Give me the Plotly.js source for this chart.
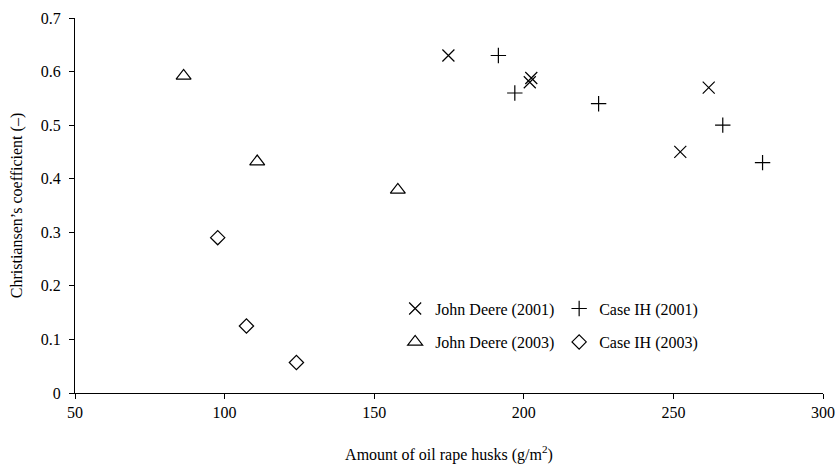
<!DOCTYPE html>
<html>
<head>
<meta charset="utf-8">
<script src="https://cdn.plot.ly/plotly-3.0.1.min.js"></script>
<style>html,body{margin:0;padding:0;background:#fff;}#chart{width:836px;height:470px;}</style>
</head>
<body>
<div id="chart"></div>
<script>
const jd2001X = [174.8, 202.5, 202.0, 261.8, 252.3];
const jd2001Y = [0.63, 0.588, 0.58, 0.57, 0.45];
const ih2001X = [191.5, 197.0, 225.0, 266.5, 279.8];
const ih2001Y = [0.63, 0.56, 0.54, 0.50, 0.43];
const jd2003X = [86.3, 110.9, 157.9];
const jd2003Y = [0.592, 0.432, 0.379];
const ih2003X = [97.7, 107.3, 124.0];
const ih2003Y = [0.29, 0.125, 0.057];
const seriesNames = ['John Deere (2001)', 'Case IH (2001)', 'John Deere (2003)', 'Case IH (2003)'];
const xTicks = [50, 100, 150, 200, 250, 300];
const yTicks = [0, 0.1, 0.2, 0.3, 0.4, 0.5, 0.6, 0.7];
const yTickText = ['0', '0.1', '0.2', '0.3', '0.4', '0.5', '0.6', '0.7'];

const FONT = 'Liberation Serif, Times New Roman, serif';
function tr(x, y, name, symbol, size, legend) {
  return {
    x: x, y: y, name: name, type: 'scatter', mode: 'markers', legend: legend,
    marker: {symbol: symbol, size: size, color: '#000', line: {color: '#000', width: 1.2}},
    cliponaxis: false
  };
}
const data = [
  tr(jd2001X, jd2001Y, seriesNames[0], 'x-thin-open', 12, 'legend'),
  tr(ih2001X, ih2001Y, seriesNames[1], 'cross-thin-open', 11, 'legend'),
  tr(jd2003X, jd2003Y, seriesNames[2], 'triangle-up-open', 13, 'legend2'),
  tr(ih2003X, ih2003Y, seriesNames[3], 'diamond-open', 11, 'legend2')
];
const legendCommon = {
  orientation: 'h', xref: 'paper', yref: 'paper', xanchor: 'left', yanchor: 'middle',
  bgcolor: 'rgba(0,0,0,0)', font: {family: FONT, size: 16, color: '#000'},
  entrywidth: 119, entrywidthmode: 'pixels', itemwidth: 30, tracegroupgap: 0
};
const layout = {
  width: 836, height: 470,
  margin: {l: 75, r: 13, t: 18, b: 77},
  paper_bgcolor: '#fff', plot_bgcolor: '#fff',
  font: {family: FONT, size: 16, color: '#000'},
  showlegend: true,
  legend: Object.assign({x: 0.428, y: 0.225}, legendCommon),
  legend2: Object.assign({x: 0.428, y: 0.136}, legendCommon),
  xaxis: {
    range: [50, 300], tickvals: xTicks, ticktext: xTicks.map(String),
    showgrid: false, zeroline: false, showline: true, linecolor: '#000', linewidth: 1,
    ticks: 'outside', ticklen: 5, tickcolor: '#000', tickfont: {family: FONT, size: 16},
    title: {text: 'Amount of oil rape husks (g/m<sup>2</sup>)', font: {family: FONT, size: 16}, standoff: 28}
  },
  yaxis: {
    range: [0, 0.7], tickvals: yTicks, ticktext: yTickText,
    showgrid: false, zeroline: false, showline: true, linecolor: '#000', linewidth: 1,
    ticks: 'outside', ticklen: 5, tickcolor: '#000', tickfont: {family: FONT, size: 16},
    ticklabelstandoff: 5,
    title: {text: 'Christiansen’s coefficient (–)', font: {family: FONT, size: 16}, standoff: 14}
  }
};
Plotly.newPlot('chart', data, layout, {displayModeBar: false, staticPlot: true});
</script>
</body>
</html>
